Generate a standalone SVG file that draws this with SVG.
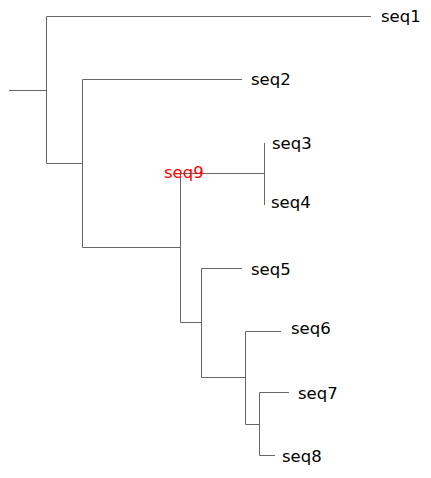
<svg xmlns="http://www.w3.org/2000/svg" width="431" height="478" viewBox="0 0 431 478">
<style>
.e{stroke:#666;stroke-width:1;fill:none}
.t{font-family:"DejaVu Sans",sans-serif;font-size:16.5px;fill:#000}
.r{fill:#ff0000}
</style>
<rect width="431" height="478" fill="#fff"/>
<g id="connectors">
<path class="e" d="M9,90.5H46.5M46.5,16.5V163.5M46.5,16.5H371M46.5,163.5H82.5M82.5,79.5V247.5M82.5,79.5H242M82.5,247.5H180.5M180.5,173.5V322.5M180.5,173.5H264.5M264.5,143V205M180.5,322.5H201.5M201.5,268.5V377.5M201.5,268.5H242M201.5,377.5H245.5M245.5,331.5V424.5M245.5,331.5H281M245.5,424.5H259.5M259.5,392.5V455.5M259.5,392.5H289M259.5,455.5H275"/>
</g>
<g id="seq1"><text class="t" x="381" y="22">seq1</text></g>
<g id="seq2"><text class="t" x="251" y="85">seq2</text></g>
<g id="seq3"><text class="t" x="272" y="149">seq3</text></g>
<g id="seq4"><text class="t" x="271" y="208">seq4</text></g>
<g id="seq9"><text class="t r" x="164" y="178">seq9</text></g>
<g id="seq5"><text class="t" x="251" y="275">seq5</text></g>
<g id="seq6"><text class="t" x="291" y="334">seq6</text></g>
<g id="seq7"><text class="t" x="298" y="399">seq7</text></g>
<g id="seq8"><text class="t" x="282" y="462">seq8</text></g>
</svg>
